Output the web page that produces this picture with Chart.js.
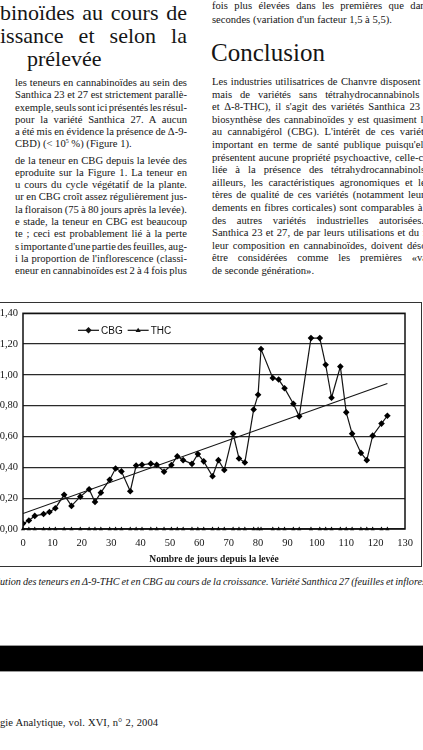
<!DOCTYPE html>
<html>
<head>
<meta charset="utf-8">
<script src="https://cdn.jsdelivr.net/npm/chart.js@4.4.0/dist/chart.umd.min.js"></script>
<style>
  html, body { margin: 0; padding: 0; background: #fff; }
  body {
    width: 423px; height: 750px; overflow: hidden; position: relative;
    font-family: "Liberation Serif", "DejaVu Serif", serif; color: #151515;
  }
  .ln { position: absolute; white-space: nowrap; font-size: 10.6px; line-height: 12px; }
  .hd { position: absolute; white-space: nowrap; font-size: 22px; line-height: 22px; }
  .pre { position: absolute; right: 100%; top: 0; }
  sup { font-size: 6px; line-height: 0; vertical-align: 4px; }
  #frame {
    position: absolute; left: -6px; top: 302px; width: 428px; height: 265px;
    border: 1.5px solid #333; box-sizing: border-box;
  }
  #chartBox { position: absolute; left: 0; top: 302px; width: 423px; height: 265px; }
  #bar {
    position: absolute; left: 0; top: 645px; width: 423px; height: 25px;
    background: #000; border-top: 1px solid #999; border-bottom: 1px solid #999;
  }
</style>
</head>
<body>
<div id="page"></div>
<div id="frame"></div>
<div id="chartBox"><canvas id="chart"></canvas></div>
<div id="bar"></div>

<script>
// --- chart data ---
const days = [0, 2, 4, 7, 9, 11, 14, 16.5, 19.5, 22.5, 24.5, 26.5, 29.5, 31.5, 33.5, 36.5,
  38.5, 40.5, 43.5, 45.5, 48, 50.5, 52.5, 54.5, 57.5, 59.5, 61.5, 64.5, 66.5, 68.5,
  71.5, 73.5, 75.5, 78.5, 80, 81, 85, 87, 89, 92, 94, 98, 101, 103, 105, 108,
  110, 112, 115, 117, 119, 122, 124];
const cbgValues = [0.035, 0.055, 0.085, 0.097, 0.11, 0.135, 0.222, 0.15, 0.21, 0.258, 0.176, 0.236,
  0.32, 0.393, 0.374, 0.245, 0.412, 0.417, 0.424, 0.417, 0.372, 0.415, 0.472, 0.447, 0.423,
  0.486, 0.439, 0.342, 0.447, 0.383, 0.619, 0.458, 0.432, 0.776, 0.871, 1.168, 0.98, 0.97,
  0.914, 0.813, 0.731, 1.239, 1.239, 1.066, 0.852, 1.054, 0.757, 0.619, 0.494, 0.447, 0.606,
  0.684, 0.735];
const thcValues = days.map(() => 0);
const trendDays = [0, 124];
const trendValues = [0.10, 0.945];
const seriesLabels = ['CBG', 'THC'];
const xTitle = 'Nombre de jours depuis la levée';

// --- page text ---
const headLines = [
  ['binoïdes au cours de', 0, 2, 187],
  ['issance et selon la', 0, 25, 187],
  ['prélevée', 27, 48, 0],
];
const leftLines = [
  'les teneurs en cannabinoïdes au sein des',
  'Santhica 23 et 27 est strictement parallè-',
  'exemple, seuls sont ici présentés les résul-',
  'pour la variété Santhica 27. A aucun',
  'a été mis en évidence la présence de Δ-9-',
  'CBD) (< 10<sup>5</sup> %) (Figure 1).',
  'de la teneur en CBG depuis la levée des',
  'eproduite sur la Figure 1. La teneur en',
  'u cours du cycle végétatif de la plante.',
  'ur en CBG croît assez régulièrement jus-',
  'la floraison (75 à 80 jours après la levée).',
  'e stade, la teneur en CBG est beaucoup',
  'te ; ceci est probablement lié à la perte',
  's importante d\'une partie des feuilles, aug-',
  'i la proportion de l\'inflorescence (classi-',
  'eneur en cannabinoïdes est 2 à 4 fois plus',
];
const rightLines = [
  'Les industries utilisatrices de Chanvre disposent désor-',
  'mais de variétés sans tétrahydrocannabinols (Δ-9-',
  'et Δ-8-THC), il s\'agit des variétés Santhica 23 et 27.',
  'biosynthèse des cannabinoïdes y est quasiment limitée',
  'au cannabigérol (CBG). L\'intérêt de ces variétés est',
  'important en terme de santé publique puisqu\'elles ne',
  'présentent aucune propriété psychoactive, celle-ci étant',
  'liée à la présence des tétrahydrocannabinols. Par',
  'ailleurs, les caractéristiques agronomiques et les cri-',
  'tères de qualité de ces variétés (notamment leurs ren-',
  'dements en fibres corticales) sont comparables à celles',
  'des autres variétés industrielles autorisées. Les',
  'Santhica 23 et 27, de par leurs utilisations et du fait de',
  'leur composition en cannabinoïdes, doivent désormais',
  'être considérées comme les premières «variétés',
  'de seconde génération».',
];

const page = document.getElementById('page');

function addLine(cls, html, x, y) {
  const el = document.createElement('div');
  el.className = cls;
  el.innerHTML = html;
  el.style.left = x + 'px';
  el.style.top = y + 'px';
  page.appendChild(el);
  return el;
}

function fit(el, width) {
  el.style.wordSpacing = '0px';
  const w = el.getBoundingClientRect().width;
  const n = (el.textContent.match(/ /g) || []).length;
  if (n) el.style.wordSpacing = ((width - w) / n) + 'px';
}

headLines.forEach(([t, x, y, right]) => {
  const el = addLine('hd', t, x, y);
  if (right) fit(el, right - x);
});

leftLines.forEach((t, i) => {
  const y = 77 + i * 12.27 + (i >= 6 ? 4 : 0);
  const el = addLine('ln', t, 15, y);
  if (i !== 5) fit(el, 187 - 15);
});

addLine('ln', 'fois plus élevées dans les premières que dans les', 212, 0);
fit(page.lastChild, 236);
addLine('ln', 'secondes (variation d\'un facteur 1,5 à 5,5).', 212, 14);
const concl = addLine('hd', 'Conclusion', 211, 40);
concl.style.fontSize = '25px';
concl.style.lineHeight = '25px';

rightLines.forEach((t, i) => {
  const el = addLine('ln', t, 212, 76 + i * 12.6);
  if (i < rightLines.length - 1) fit(el, 238);
});

// caption and footer, left part cut off by the page edge
const cap = addLine('ln', '<span class="pre">Figure 1 : Évol</span><span id="capVis">ution des teneurs en Δ-9-THC et en CBG au cours de la croissance. Variété Santhica 27 (feuilles et inflores</span>cences).', 0, 576);
cap.style.fontStyle = 'italic';
cap.style.fontSize = '10.2px';
fit(document.getElementById('capVis'), 426);

const foot = addLine('ln', '<span class="pre">Annales de Toxicolo</span><span id="footVis">gie Analytique, vol. XVI, n° 2, 2004</span>', 0, 717);
foot.style.fontSize = '10.6px';
fit(document.getElementById('footVis'), 158);

// --- chart ---
function drawMarker(ctx, style, x, y, r) {
  ctx.beginPath();
  if (style === 'rectRot') {
    ctx.moveTo(x, y - r); ctx.lineTo(x + r, y); ctx.lineTo(x, y + r); ctx.lineTo(x - r, y);
  } else {
    ctx.moveTo(x, y - r); ctx.lineTo(x + r, y + r * 0.7); ctx.lineTo(x - r, y + r * 0.7);
  }
  ctx.closePath();
  ctx.fill();
}

const inlineLegend = {
  id: 'inlineLegend',
  afterDatasetsDraw(chart) {
    const { ctx, chartArea } = chart;
    const y = chartArea.top + 17;
    let x = chartArea.left + 55;
    ctx.save();
    ctx.font = '10px "Liberation Sans", Arial, sans-serif';
    ctx.textBaseline = 'middle';
    ctx.fillStyle = '#111';
    ctx.strokeStyle = '#111';
    chart.data.datasets.filter(d => d.inLegend).forEach(d => {
      ctx.lineWidth = 1.2;
      ctx.beginPath(); ctx.moveTo(x, y); ctx.lineTo(x + 21, y); ctx.stroke();
      drawMarker(ctx, d.pointStyle, x + 10.5, y, d.legendSize);
      ctx.fillText(d.label, x + 23, y + 0.5);
      x += 23 + ctx.measureText(d.label).width + 5;
    });
    ctx.restore();
  },
  afterDraw(chart) {
    const { ctx, chartArea } = chart;
    ctx.save();
    ctx.strokeStyle = '#111';
    ctx.lineWidth = 1.5;
    ctx.strokeRect(chartArea.left, chartArea.top, chartArea.right - chartArea.left, chartArea.bottom - chartArea.top);
    ctx.restore();
  }
};

Chart.defaults.font.family = '"Liberation Serif", "Times New Roman", serif';
Chart.defaults.color = '#151515';

new Chart(document.getElementById('chart'), {
  type: 'line',
  data: {
    datasets: [
      {
        label: seriesLabels[0],
        inLegend: true,
        legendSize: 3.2,
        data: days.map((d, i) => ({ x: d, y: cbgValues[i] })),
        borderColor: '#151515',
        backgroundColor: '#000',
        borderWidth: 1.2,
        pointStyle: 'rectRot',
        pointRadius: 3.3,
        pointBorderWidth: 0,
        tension: 0,
      },
      {
        label: seriesLabels[1],
        inLegend: true,
        legendSize: 2.6,
        data: days.map((d, i) => ({ x: d, y: thcValues[i] })),
        borderColor: '#151515',
        backgroundColor: '#000',
        borderWidth: 1,
        pointStyle: 'triangle',
        pointRadius: 2.4,
        pointBorderWidth: 0,
        clip: false,
      },
      {
        label: 'tendance',
        data: trendDays.map((d, i) => ({ x: d, y: trendValues[i] })),
        borderColor: '#151515',
        borderWidth: 1.1,
        pointRadius: 0,
      },
    ],
  },
  options: {
    responsive: true,
    maintainAspectRatio: false,
    animation: false,
    events: [],
    layout: { padding: { top: 10, right: 18, left: 0, bottom: 0 } },
    plugins: { legend: { display: false }, tooltip: { enabled: false } },
    scales: {
      x: {
        type: 'linear',
        min: 0,
        max: 130,
        ticks: { stepSize: 10, padding: 0, font: { size: 10.5 } },
        grid: { display: false },
        border: { display: false },
        title: {
          display: true,
          text: xTitle,
          font: { size: 9.5, weight: 'bold' },
          padding: { top: 0, bottom: 2 },
        },
        afterFit: (scale) => { scale.height = 38; },
      },
      y: {
        min: 0,
        max: 1.4,
        ticks: {
          stepSize: 0.2,
          padding: 5,
          font: { size: 10.5 },
          callback: (v) => v.toFixed(2).replace('.', ','),
        },
        grid: { color: '#2a2a2a', lineWidth: 1.3, drawTicks: false },
        border: { display: false },
        afterFit: (scale) => { scale.width = 23; },
      },
    },
  },
  plugins: [inlineLegend],
});
</script>
</body>
</html>
